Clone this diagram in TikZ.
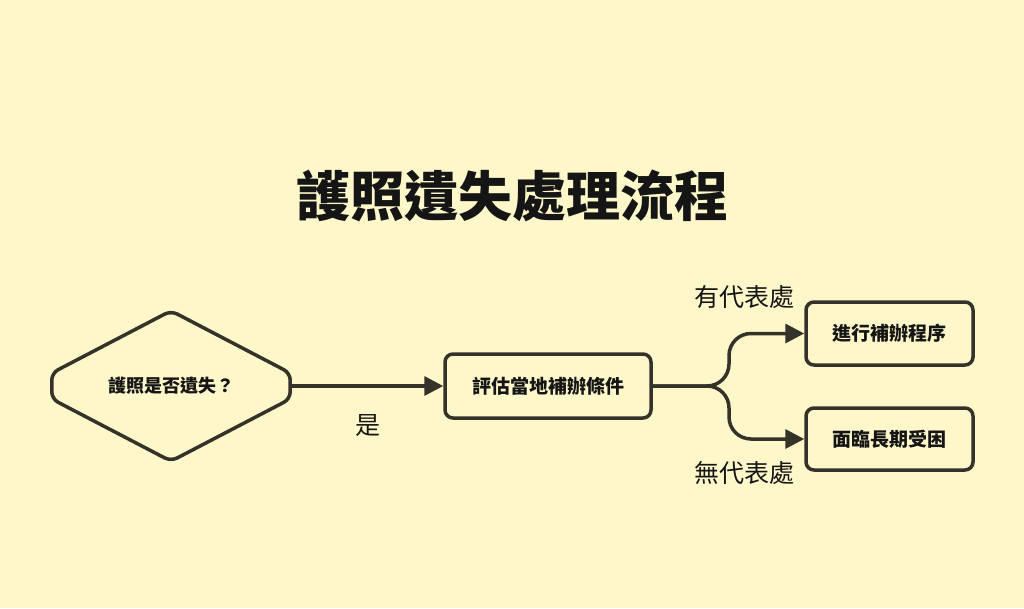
\documentclass[tikz,border=0pt]{standalone}
\usepackage{fontspec}
\setmainfont{Noto Sans CJK TC}
\newfontfamily\cjk{Noto Sans CJK TC}
\usetikzlibrary{arrows.meta}
\definecolor{bg}{HTML}{FEF7C9}
\definecolor{ink}{HTML}{35322A}
\definecolor{txt}{HTML}{151515}
\tikzset{
  x=1pt, y=-1pt,
  boxnode/.style={draw=ink, line width=3.5pt, rounded corners=8pt, fill=bg, text=txt,
     font=\cjk\bfseries\fontsize{19}{22}\selectfont, inner sep=0pt, anchor=center},
  conn/.style={draw=ink, line width=3.5pt, -{Triangle[length=19pt,width=19pt]}},
  lbl/.style={text=txt, font=\cjk\fontsize{25}{28}\selectfont, inner sep=0pt}
}
\begin{document}
\begin{tikzpicture}
\fill[bg] (0,0) rectangle (1024,608);
\useasboundingbox (0,0) rectangle (1024,608);
% title
\node[text=txt, font=\cjk\bfseries\fontsize{54}{62}\selectfont, inner sep=0pt] (title) at (512,196) {護照遺失處理流程};
% decision
\node[minimum width=238pt, minimum height=150pt, inner sep=0pt, text=txt,
      font=\cjk\bfseries\fontsize{18}{21}\selectfont] (q) at (171,386) {護照是否遺失？};
\draw[ink, line width=3.5pt, rounded corners=7pt, line join=round]
  ([yshift=13pt]q.west) -- (q.north) -- ([yshift=13pt]q.east) -- ([yshift=-13pt]q.east)
  -- (q.south) -- ([yshift=-13pt]q.west) -- cycle;
% boxes
\node[boxnode, minimum width=206pt, minimum height=64pt] (eval) at (548,386) {評估當地補辦條件};
\node[boxnode, minimum width=167pt, minimum height=63pt] (proc) at (889.5,333.5) {進行補辦程序};
\node[boxnode, minimum width=167pt, minimum height=62pt] (stuck) at (889.5,439) {面臨長期受困};
% connectors
\draw[conn] (q.east) -- (eval.west);
\coordinate (split) at (729,386);
\draw[conn, rounded corners=22pt] (eval.east) -- (split) |- (proc.west);
\draw[conn, rounded corners=22pt] (eval.east) -- (split) |- (stuck.west);
% labels
\node[lbl] (yes) at (368,426) {是};
\node[lbl] (has) at (744,297) {有代表處};
\node[lbl] (none) at (744,473) {無代表處};
\end{tikzpicture}
\end{document}
